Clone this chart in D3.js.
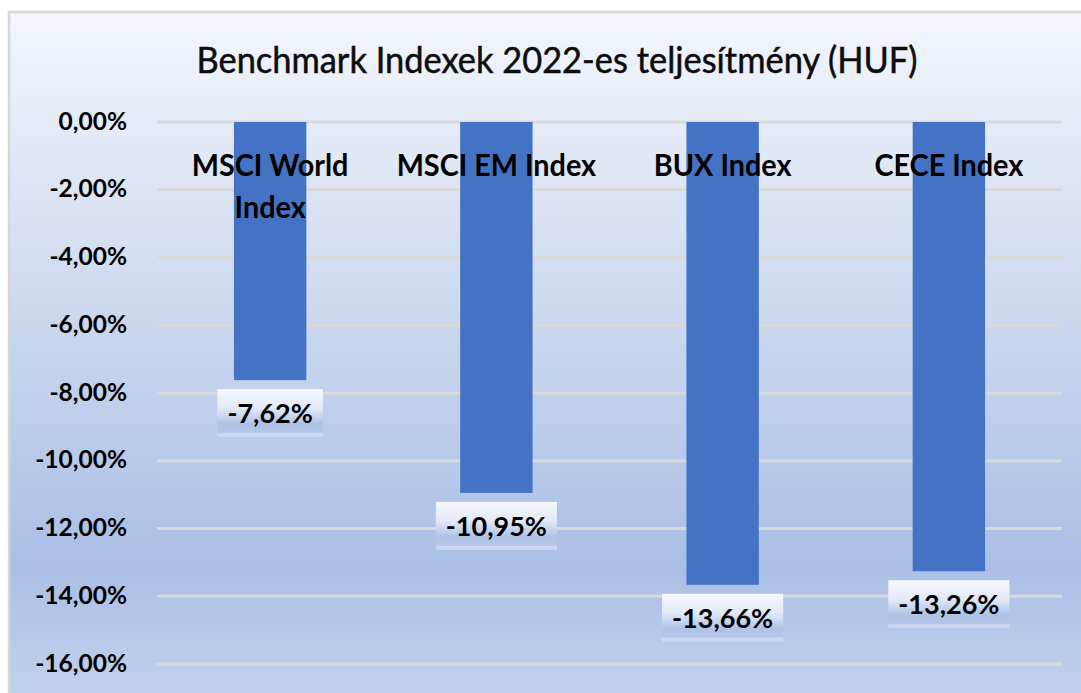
<!DOCTYPE html>
<html>
<head>
<meta charset="utf-8">
<script src="https://cdn.jsdelivr.net/npm/d3@7/dist/d3.min.js"></script>
<style>
  html, body { margin: 0; padding: 0; background: #ffffff; }
  svg { display: block; }
  text { font-family: Lato, "Open Sans", "Liberation Sans", sans-serif; }
</style>
</head>
<body>
<svg id="chart" width="1081" height="693"></svg>
<script>
// ---- data ----
const title = "Benchmark Indexek 2022-es teljesítmény (HUF)";
const categories = ["MSCI World Index", "MSCI EM Index", "BUX Index", "CECE Index"];
const categoryLines = [["MSCI World", "Index"], ["MSCI EM Index"], ["BUX Index"], ["CECE Index"]];
const values = [-7.62, -10.95, -13.66, -13.26];
const yTicks = [0, -2, -4, -6, -8, -10, -12, -14, -16];

// ---- layout ----
const W = 1081, H = 693;
const plot = { left: 157, right: 1062, top: 122, bottom: 664 };

const svg = d3.select("#chart");
const defs = svg.append("defs");

const bg = defs.append("linearGradient").attr("id", "bgGrad")
  .attr("x1", 0).attr("y1", 0).attr("x2", 0).attr("y2", 1);
[[0, "#f3f6fc"], [0.15, "#e6ecf7"], [0.8, "#aabfe5"], [1, "#c4d2ee"]]
  .forEach(([o, c]) => bg.append("stop").attr("offset", o).attr("stop-color", c));

const lg = defs.append("linearGradient").attr("id", "lblGrad")
  .attr("x1", 0).attr("y1", 0).attr("x2", 0).attr("y2", 1);
[[0, "#f6f8fd"], [0.4, "#e2e9f6"], [0.72, "#afc3e7"], [0.9, "#b3c6e8"], [0.93, "#cdd9f0"], [1, "#c8d5ef"]]
  .forEach(([o, c]) => lg.append("stop").attr("offset", o).attr("stop-color", c));

// chart area background + border
svg.append("rect").attr("x", 9).attr("y", 12).attr("width", W + 10).attr("height", H)
  .attr("fill", "url(#bgGrad)").attr("stroke", "#d6d6d6").attr("stroke-width", 2.5);

// title
svg.append("text").attr("x", 557).attr("y", 73).attr("text-anchor", "middle")
  .attr("font-size", 36).attr("fill", "#0d0d0d")
  .attr("stroke", "#0d0d0d").attr("stroke-width", 0.5)
  .attr("textLength", 721).attr("lengthAdjust", "spacingAndGlyphs").text(title);

// scales
const x = d3.scaleBand().domain(categories).range([plot.left, plot.right]).paddingInner(0.68).paddingOuter(0.34);
const y = d3.scaleLinear().domain([0, -16]).range([plot.top, plot.bottom]);

// gridlines
svg.append("g").selectAll("line").data(yTicks).join("line")
  .attr("x1", plot.left).attr("x2", plot.right)
  .attr("y1", d => y(d)).attr("y2", d => y(d))
  .attr("stroke", "#d9d9d9").attr("stroke-width", 3);

// y axis labels via d3 axis
const fmt = d => d3.format(".2f")(d).replace(".", ",").replace("−", "-") + "%";
const yAxis = d3.axisLeft(y).tickValues(yTicks).tickFormat(fmt).tickSize(0).tickPadding(0);
const gy = svg.append("g").attr("transform", "translate(127,0)").call(yAxis);
gy.select(".domain").remove();
gy.selectAll("text").attr("font-size", 25).attr("font-weight", 700).attr("fill", "#000")
  .attr("font-family", "Lato, 'Open Sans', sans-serif").attr("dy", "0.28em")
  .each(function () {
    const n = this.getComputedTextLength();
    d3.select(this).attr("textLength", n * 0.98).attr("lengthAdjust", "spacingAndGlyphs");
  });

// bars
svg.append("g").selectAll("rect").data(values).join("rect")
  .attr("x", (d, i) => x(categories[i]))
  .attr("y", y(0))
  .attr("width", x.bandwidth())
  .attr("height", d => y(d) - y(0))
  .attr("fill", "#4472c4");

// category labels
const cg = svg.append("g");
categoryLines.forEach((lines, i) => {
  const cx = x(categories[i]) + x.bandwidth() / 2;
  lines.forEach((ln, j) => {
    cg.append("text").attr("x", cx).attr("y", 176 + j * 42).attr("text-anchor", "middle")
      .attr("font-size", 30).attr("font-weight", 700).attr("fill", "#000").text(ln)
      .each(function () {
        const n = this.getComputedTextLength();
        d3.select(this).attr("textLength", n * 0.96).attr("lengthAdjust", "spacingAndGlyphs");
      });
  });
});

// data labels
const dl = svg.append("g");
values.forEach((v, i) => {
  const cx = x(categories[i]) + x.bandwidth() / 2;
  const label = d3.format(".2f")(v).replace(".", ",").replace("−", "-") + "%";
  const t = dl.append("text").attr("x", cx).attr("y", y(v) + 43).attr("text-anchor", "middle")
    .attr("font-size", 27).attr("font-weight", 700).attr("fill", "#000").text(label);
  const w = t.node().getComputedTextLength() + 20;
  dl.insert("rect", "text").attr("x", cx - w / 2).attr("y", y(v) + 9)
    .attr("width", w).attr("height", 48).attr("fill", "url(#lblGrad)");
});
</script>
</body>
</html>
